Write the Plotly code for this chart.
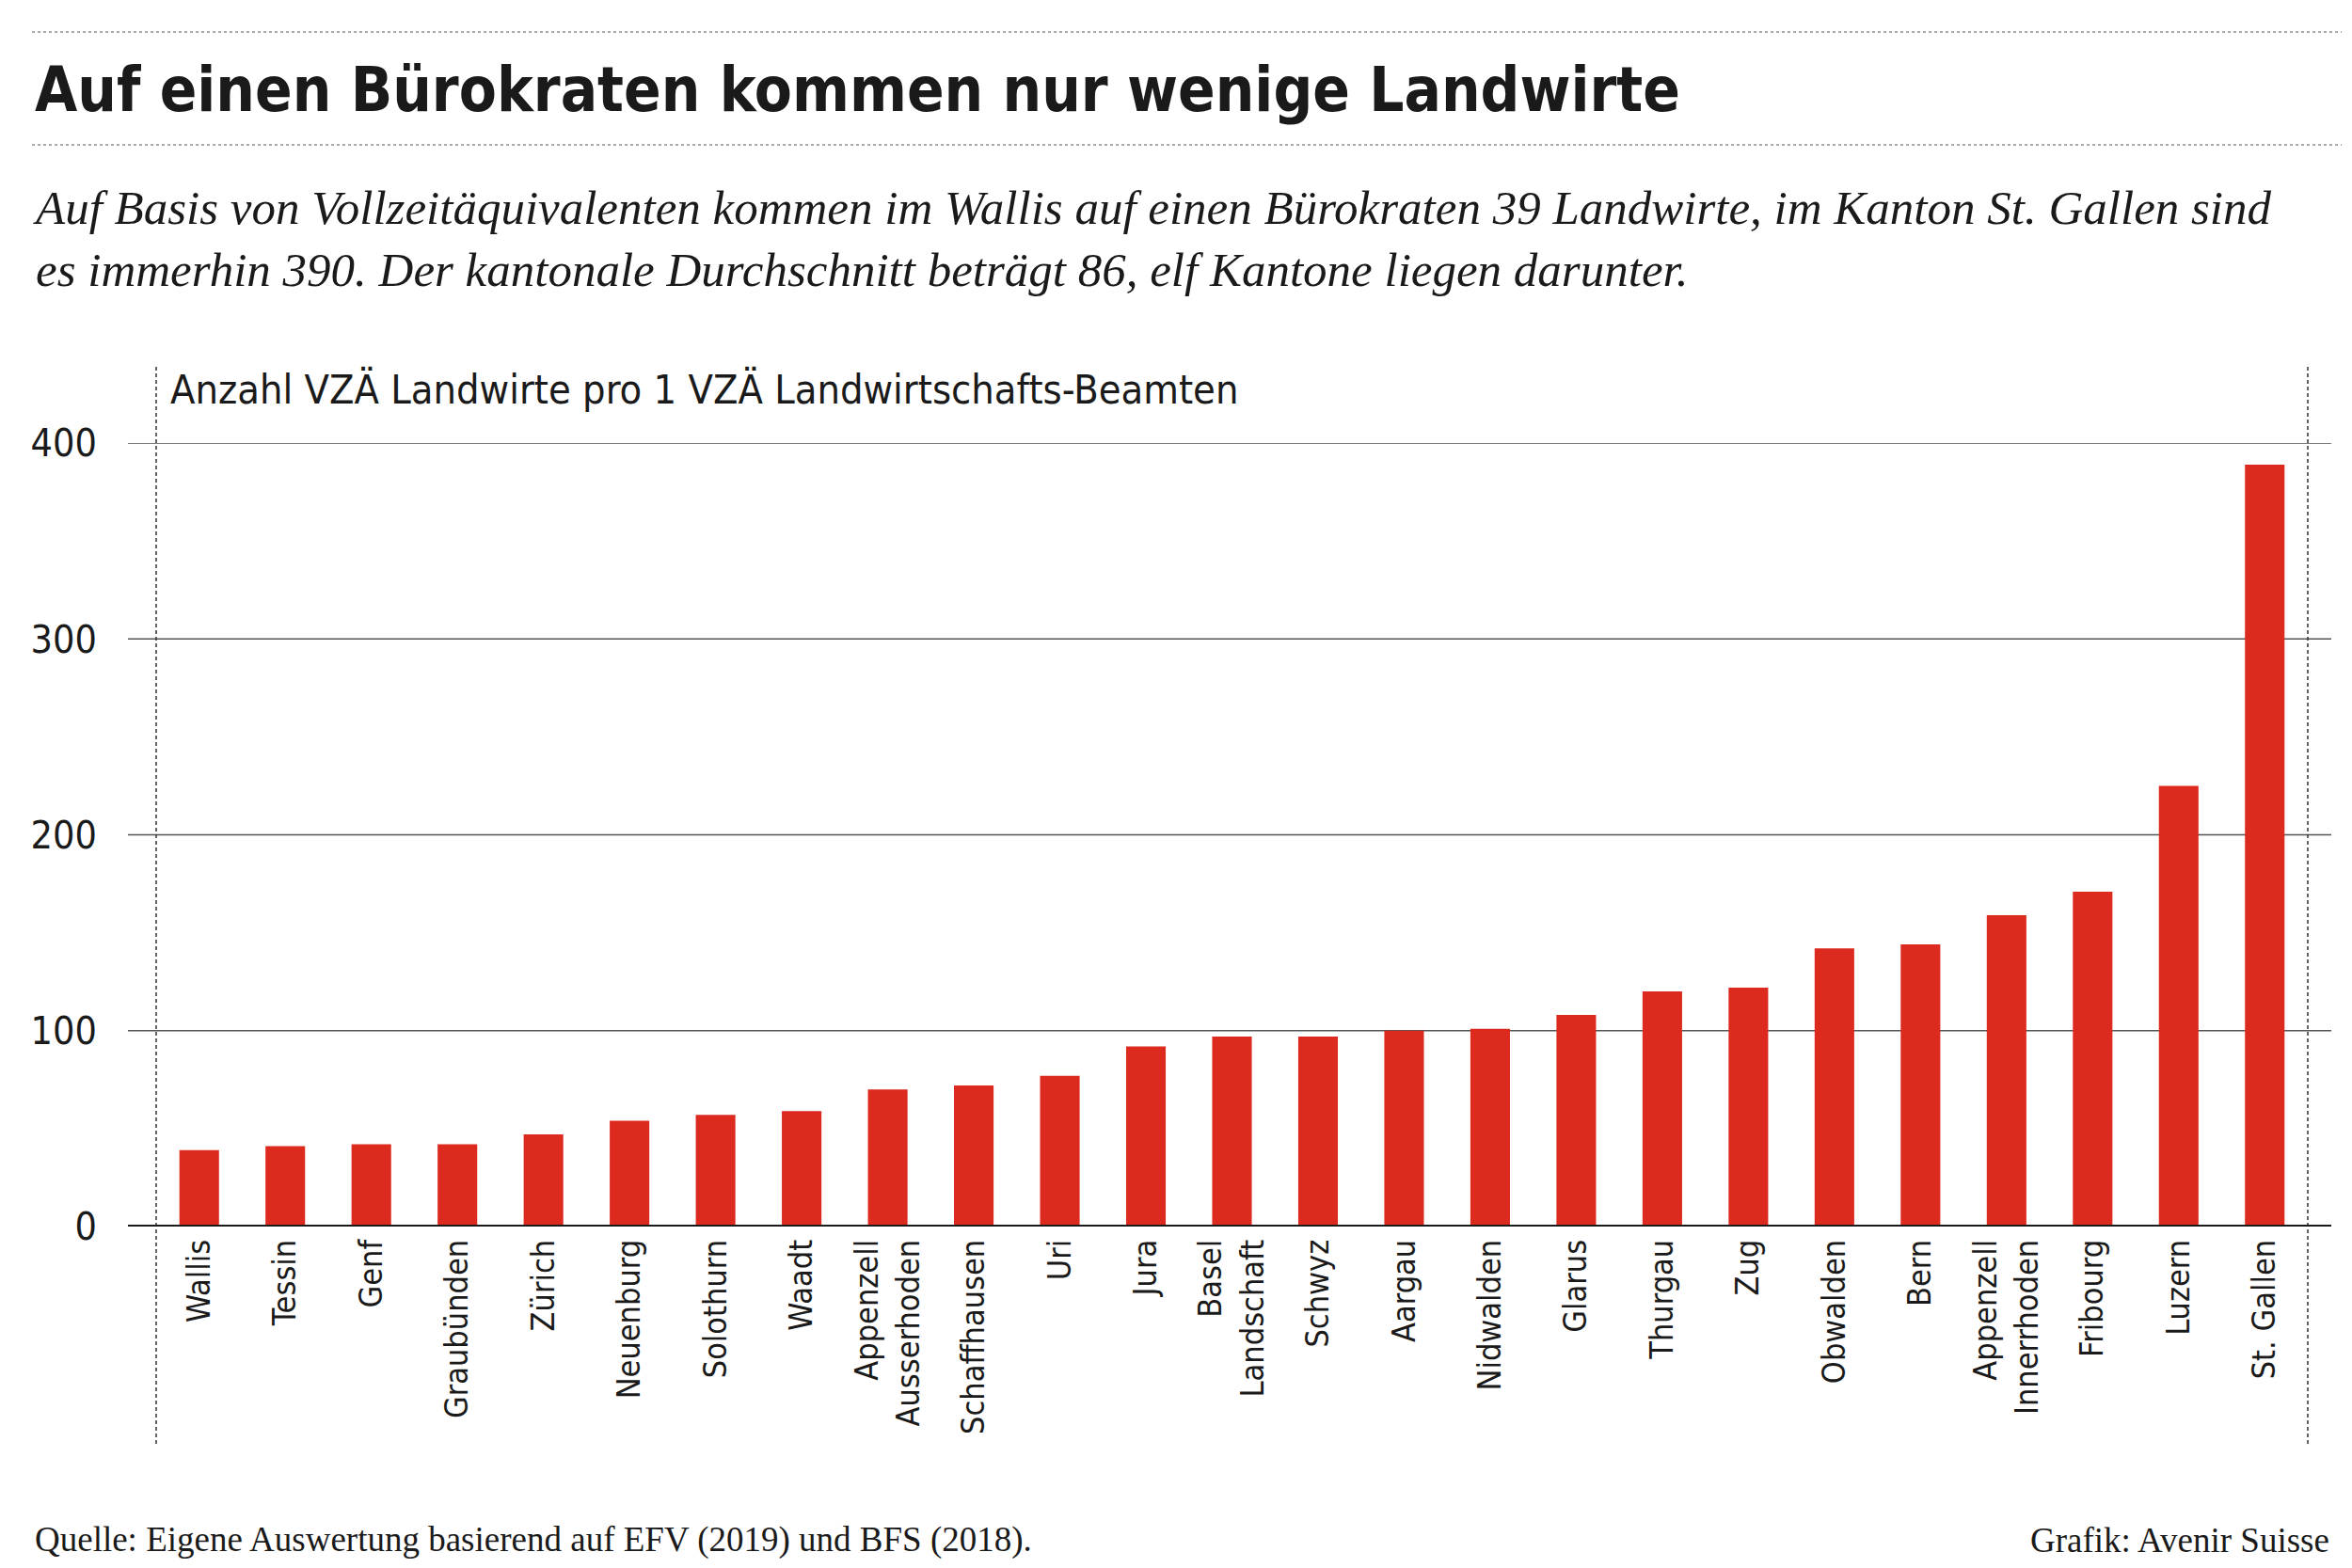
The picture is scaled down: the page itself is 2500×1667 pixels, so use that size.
import plotly.graph_objects as go

# ---------------- data ----------------
cantons = ["Wallis", "Tessin", "Genf", "Graubünden", "Zürich", "Neuenburg", "Solothurn",
           "Waadt", "Appenzell<br>Ausserhoden", "Schaffhausen", "Uri", "Jura",
           "Basel<br>Landschaft", "Schwyz", "Aargau", "Nidwalden", "Glarus", "Thurgau",
           "Zug", "Obwalden", "Bern", "Appenzell<br>Innerrhoden", "Fribourg", "Luzern",
           "St. Gallen"]
values = [39, 41, 42, 42, 47, 54, 57, 59, 70, 72, 77, 92, 97, 97, 100, 101, 108, 120,
          122, 142, 144, 159, 171, 225, 389]
y_ticks = [0, 100, 200, 300, 400]
y_ticklabels = ["0", "100", "200", "300", "400"]

title_text = "Auf einen Bürokraten kommen nur wenige Landwirte"
subtitle_text = ("Auf Basis von Vollzeitäquivalenten kommen im Wallis auf einen Bürokraten 39 Landwirte, "
                 "im Kanton St. Gallen sind<br>es immerhin 390. Der kantonale Durchschnitt beträgt 86, "
                 "elf Kantone liegen darunter.")
axis_title = "Anzahl VZÄ Landwirte pro 1 VZÄ Landwirtschafts-Beamten"
source_text = "Quelle: Eigene Auswertung basierend auf EFV (2019) und BFS (2018)."
credit_text = "Grafik: Avenir Suisse"

# ---------------- layout geometry (pixels) ----------------
W, H = 2500, 1667
L, R, T, B = 158, 55, 463, 371
PW = W - L - R
PH = H - T - B


def px_x(px):
    return (px - L) / PW


def px_y(py):
    return (H - B - py) / PH


COND = "DejaVu Sans Condensed, Liberation Sans Narrow, DejaVu Sans, sans-serif"
SERIF = "Liberation Serif, Times New Roman, serif"
INK = "#1a1a1a"
RED = "#dc2a1f"

fig = go.Figure()
fig.add_trace(go.Bar(
    x=list(range(len(cantons))), y=values,
    marker=dict(color=RED, line=dict(width=0)),
    width=0.46, hoverinfo="skip",
))

shapes = []
# horizontal grid lines extending beyond plot area
for v in y_ticks:
    shapes.append(dict(
        type="line", xref="paper", yref="y",
        x0=px_x(128), x1=px_x(2470), y0=v, y1=v,
        line=dict(color=INK if v == 0 else "#555555", width=4 if v == 0 else 1.6),
        layer="above" if v == 0 else "below",
    ))
# vertical dotted frame lines
for xp in (0, 1):
    shapes.append(dict(
        type="line", xref="paper", yref="paper",
        x0=xp, x1=xp, y0=px_y(1527), y1=px_y(380),
        line=dict(color="#333333", width=1.5, dash="4px,3px"), layer="below",
    ))
# top dotted separators
for py in (26, 146):
    shapes.append(dict(
        type="line", xref="paper", yref="paper",
        x0=px_x(26), x1=px_x(2481), y0=px_y(py), y1=px_y(py),
        line=dict(color="#aaaaaa", width=2, dash="dot"),
    ))

annotations = [
    dict(text="<b>" + title_text + "</b>", x=px_x(27), y=px_y(88), xanchor="left", yanchor="middle",
         font=dict(family=COND, size=65, color=INK)),
    dict(text="<i>" + subtitle_text + "</i>", x=px_x(25), y=px_y(246), xanchor="left", yanchor="middle",
         align="left", font=dict(family=SERIF, size=51, color=INK)),
    dict(text=axis_title, x=px_x(171), y=px_y(406), xanchor="left", yanchor="middle",
         font=dict(family=COND, size=43, color=INK)),
    dict(text=source_text, x=px_x(27), y=px_y(1629), xanchor="left", yanchor="middle",
         font=dict(family=SERIF, size=37, color=INK)),
    dict(text=credit_text, x=px_x(2470), y=px_y(1629), xanchor="right", yanchor="middle",
         font=dict(family=SERIF, size=37, color=INK)),
]
for a in annotations:
    a.update(xref="paper", yref="paper", showarrow=False)

fig.update_layout(
    width=W, height=H,
    margin=dict(l=L, r=R, t=T, b=B, autoexpand=False),
    paper_bgcolor="white", plot_bgcolor="white",
    showlegend=False,
    bargap=0.54,
    shapes=shapes,
    annotations=annotations,
    xaxis=dict(
        tickmode="array", tickvals=list(range(len(cantons))), ticktext=cantons,
        tickangle=-90, range=[-0.5, len(cantons) - 0.5],
        showgrid=False, zeroline=False, showline=False, ticks="",
        ticklabelstandoff=6,
        tickfont=dict(family=COND, size=34, color=INK),
        fixedrange=True,
    ),
    yaxis=dict(
        tickmode="array", tickvals=y_ticks, ticktext=y_ticklabels,
        range=[0, 400], showgrid=False, zeroline=False, showline=False, ticks="",
        ticklabelstandoff=62,
        tickfont=dict(family=COND, size=41, color=INK),
        fixedrange=True,
    ),
)

fig.write_html("out.html")
